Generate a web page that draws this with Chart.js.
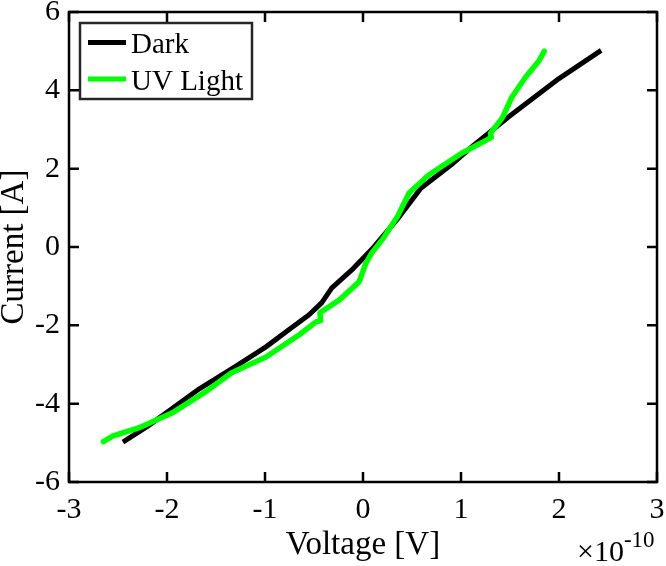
<!DOCTYPE html>
<html>
<head>
<meta charset="utf-8">
<script src="https://cdn.jsdelivr.net/npm/chart.js@4/dist/chart.umd.min.js"></script>
<style>
  html, body { margin: 0; padding: 0; background: #fff; }
  #wrap { width: 666px; height: 566px; }
</style>
</head>
<body>
<div id="wrap"><canvas id="c" width="666" height="566"></canvas></div>
<script>
// Voltage values are in units of 1e-10 V (axis shows x10^-10)
const voltExponent = -10;
const xTicks = [-3, -2, -1, 0, 1, 2, 3];
const yTicks = [-6, -4, -2, 0, 2, 4, 6];

const darkLabel = 'Dark';
const darkV = [-2.45, -2.2, -2.0, -1.67, -1.3, -0.99, -0.75, -0.55, -0.42, -0.32, -0.1, 0.09, 0.37, 0.59, 0.9, 1.13, 1.49, 2.0, 2.43];
const darkI = [-4.98, -4.58, -4.22, -3.62, -3.05, -2.55, -2.1, -1.73, -1.42, -1.05, -0.55, -0.06, 0.77, 1.5, 2.1, 2.6, 3.33, 4.3, 5.02];

const uvLabel = 'UV Light';
const uvV = [-2.65, -2.55, -2.29, -1.95, -1.62, -1.34, -0.99, -0.65, -0.48, -0.43, -0.44, -0.24, -0.04, 0.03, 0.09, 0.2, 0.35, 0.47, 0.67, 1.01, 1.26, 1.31, 1.30, 1.36, 1.42, 1.52, 1.66, 1.80, 1.85];
const uvI = [-4.97, -4.82, -4.62, -4.24, -3.72, -3.21, -2.81, -2.24, -1.91, -1.88, -1.68, -1.35, -0.89, -0.41, -0.15, 0.2, 0.77, 1.38, 1.84, 2.40, 2.73, 2.80, 2.90, 3.10, 3.29, 3.83, 4.34, 4.77, 5.00];

const toPts = (xs, ys) => xs.map((x, i) => ({ x: x, y: ys[i] }));
const FONT = "'Liberation Serif', 'Times New Roman', serif";

const boxPlugin = {
  id: 'boxPlugin',
  afterDraw(chart) {
    const ctx = chart.ctx;
    const a = chart.chartArea;
    const xs = chart.scales.x, ys = chart.scales.y;
    ctx.save();
    ctx.strokeStyle = '#000';
    ctx.lineWidth = 2.5;
    ctx.strokeRect(a.left, a.top, a.right - a.left, a.bottom - a.top);
    const tl = 10;
    ctx.beginPath();
    xTicks.forEach(v => {
      const px = xs.getPixelForValue(v);
      ctx.moveTo(px, a.bottom); ctx.lineTo(px, a.bottom - tl);
      ctx.moveTo(px, a.top); ctx.lineTo(px, a.top + tl);
    });
    yTicks.forEach(v => {
      const py = ys.getPixelForValue(v);
      ctx.moveTo(a.left, py); ctx.lineTo(a.left + tl, py);
      ctx.moveTo(a.right, py); ctx.lineTo(a.right - tl, py);
    });
    ctx.stroke();

    // legend
    const lx = 80, ly = 23, lw = 172, lh = 76;
    ctx.fillStyle = '#fff';
    ctx.fillRect(lx, ly, lw, lh);
    ctx.strokeStyle = '#262626';
    ctx.lineWidth = 2.5;
    ctx.strokeRect(lx, ly, lw, lh);
    const items = chart.data.datasets.slice().sort((p, q) => p.legendIndex - q.legendIndex);
    items.forEach((ds, i) => {
      const cy = 42.5 + i * 36.5;
      ctx.strokeStyle = ds.borderColor;
      ctx.lineWidth = 5;
      ctx.beginPath();
      ctx.moveTo(88, cy); ctx.lineTo(126, cy);
      ctx.stroke();
      ctx.fillStyle = '#000';
      ctx.font = '29px ' + FONT;
      ctx.textBaseline = 'alphabetic';
      ctx.textAlign = 'left';
      ctx.fillText(ds.label, 131, cy + 10.5);
    });

    // exponent label
    ctx.fillStyle = '#000';
    ctx.textAlign = 'left';
    ctx.textBaseline = 'alphabetic';
    ctx.font = '30px ' + FONT;
    ctx.fillText('\u00D710', 577, 561);
    const w = ctx.measureText('\u00D710').width;
    ctx.font = '23px ' + FONT;
    ctx.fillText(String(voltExponent), 577 + w, 547);
    ctx.restore();
  }
};

new Chart(document.getElementById('c'), {
  type: 'scatter',
  data: {
    datasets: [
      { label: uvLabel, legendIndex: 1, data: toPts(uvV, uvI), showLine: true, borderColor: '#00ff00', backgroundColor: '#00ff00',
        borderWidth: 5.5, pointRadius: 0, tension: 0, order: 0, borderCapStyle: 'round', borderJoinStyle: 'round' },
      { label: darkLabel, legendIndex: 0, data: toPts(darkV, darkI), showLine: true, borderColor: '#000000', backgroundColor: '#000000',
        borderWidth: 5, pointRadius: 0, tension: 0, order: 1, borderCapStyle: 'butt', borderJoinStyle: 'round' }
    ]
  },
  options: {
    responsive: false,
    animation: false,
    devicePixelRatio: 1,
    layout: { padding: { top: 12, right: 9, left: 0, bottom: 0 } },
    plugins: { legend: { display: false }, tooltip: { enabled: false } },
    scales: {
      x: {
        type: 'linear', min: -3, max: 3,
        afterBuildTicks: s => { s.ticks = xTicks.map(v => ({ value: v })); },
        afterFit: s => { s.height = 84; s.paddingLeft = 0; s.paddingRight = 0; },
        grid: { display: false, drawTicks: false },
        border: { display: false },
        ticks: { font: { family: FONT, size: 30, lineHeight: 1.2 }, color: '#000', padding: 10, maxRotation: 0, autoSkip: false },
        title: { display: true, text: 'Voltage [V]', color: '#000', font: { family: FONT, size: 33, lineHeight: 1 }, padding: { top: 0, bottom: 4.5 } }
      },
      y: {
        type: 'linear', min: -6, max: 6,
        afterBuildTicks: s => { s.ticks = yTicks.map(v => ({ value: v })); },
        afterFit: s => { s.width = 69; s.paddingTop = 0; s.paddingBottom = 0; },
        grid: { display: false, drawTicks: false },
        border: { display: false },
        ticks: { font: { family: FONT, size: 30 }, color: '#000', padding: 9, autoSkip: false },
        title: { display: true, text: 'Current [A]', color: '#000', font: { family: FONT, size: 33, lineHeight: 0.85 }, padding: { top: 0, bottom: 0 } }
      }
    }
  },
  plugins: [boxPlugin]
});
</script>
</body>
</html>
